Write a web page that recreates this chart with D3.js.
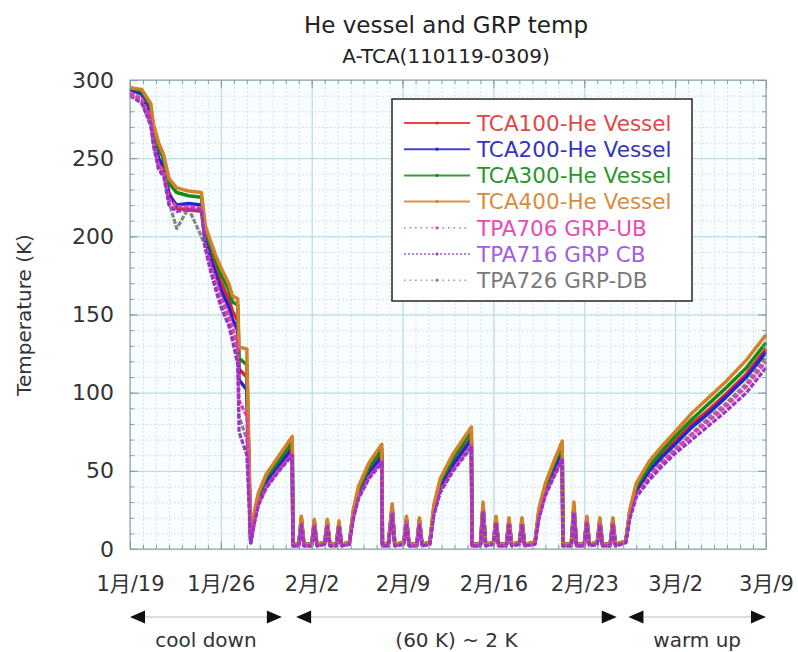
<!DOCTYPE html>
<html><head><meta charset="utf-8">
<script src="https://cdn.jsdelivr.net/npm/d3@7/dist/d3.min.js"></script>
<style>
body{margin:0;background:#fff;}
svg text{font-family:"DejaVu Sans","Noto Sans CJK JP",sans-serif;}
</style></head><body>
<svg id="c" width="798" height="652"></svg>
<script>
// ---- data (days since 1/19, temperature in K) ----
const days = [0,0.9,1.6,1.8,2.2,2.6,3.0,3.6,4.5,5.5,5.8,6.2,6.6,7.0,7.6,7.9,8.3,8.4,9.0,9.3,
 9.6,9.9,10.5,11.5,12.5,12.55,
 13.0,13.2,13.4,14.0,14.2,14.4,15.0,15.2,15.4,15.9,16.1,16.3,16.9,
 17.2,17.6,18.4,19.4,19.45,
 19.9,20.2,20.4,21.1,21.3,21.5,22.1,22.3,22.5,23.1,
 23.4,23.9,24.9,26.3,26.35,
 27.0,27.2,27.4,28.0,28.2,28.4,29.0,29.2,29.4,30.0,30.2,30.4,31.2,
 31.5,32.0,32.6,33.3,33.35,
 34.0,34.2,34.4,35.0,35.2,35.4,36.0,36.2,36.4,37.0,37.2,37.4,38.2,
 38.5,39.0,40.0,41.0,42.0,43.3,44.6,45.9,47.5,49.0];

const tca100 = [294,292,280,262,248,244,228,218,217,216,200,189,180,171,160,152,146,115,110,4,
 21,32,44,55,66,3,
 3,19,3,3,17,3,4,17,3,3,16,3,4,
 22,36,50,61,3,
 3,26,3,4,19,3,3,18,3,4,
 25,41,55,71,3,
 3,27,3,4,19,3,3,18,3,4,18,3,4,
 23,38,50,62,3,
 3,27,3,3,19,3,4,18,3,3,18,3,5,
 23,38,51,60,69,80,89,99,112,128];

const tca200 = [294,291,278,265,250,245,226,220,221,220,198,186,176,166,155,147,140,108,102,4,
 20,31,43,54,64,3,
 3,18,3,3,16,3,4,16,3,3,16,3,4,
 22,35,49,59,3,
 3,25,3,4,18,3,3,18,3,4,
 24,40,54,70,3,
 3,26,3,4,18,3,3,18,3,4,18,3,4,
 22,37,49,61,3,
 3,26,3,3,18,3,4,18,3,3,18,3,5,
 22,37,50,59,67,78,87,97,110,126];

const tca300 = [295,293,283,270,257,249,234,228,226,225,204,194,185,176,166,158,156,122,118,5,
 23,34,46,57,69,3,
 3,20,3,3,18,3,4,18,3,3,17,3,4,
 24,38,52,64,3,
 3,27,3,4,20,3,3,19,3,4,
 26,43,58,75,3,
 3,28,3,4,20,3,3,19,3,4,19,3,4,
 24,40,53,66,3,
 3,28,3,3,20,3,4,19,3,3,19,3,5,
 24,40,53,63,72,83,93,103,116,132];

const tca400 = [295,294,285,272,260,252,237,231,229,228,207,197,188,180,170,162,160,129,128,5,
 25,36,48,60,72,3,
 3,21,3,3,19,3,4,19,3,3,18,3,4,
 25,40,55,67,3,
 3,29,3,4,21,3,3,20,3,4,
 28,45,61,78,3,
 3,30,3,4,21,3,3,20,3,4,20,3,4,
 26,42,55,69,3,
 3,30,3,3,21,3,4,20,3,3,20,3,5,
 25,42,56,66,75,87,97,107,121,137];

const tpa706 = [292,288,276,262,246,242,224,219,219,218,195,182,172,161,150,142,130,95,85,4,
 18,29,40,51,61,2,
 2,16,2,2,15,2,3,15,2,2,14,2,3,
 20,33,46,56,2,
 2,23,2,3,17,2,2,16,2,3,
 22,37,51,66,2,
 2,24,2,3,17,2,2,16,2,3,16,2,3,
 20,35,46,58,2,
 2,24,2,2,17,2,3,16,2,2,16,2,4,
 20,34,46,55,63,73,82,91,104,120];

const tpa716 = [290,285,272,258,243,238,220,216,217,217,192,178,166,155,143,133,118,75,60,4,
 17,28,39,50,60,2,
 2,15,2,2,14,2,3,14,2,2,14,2,3,
 19,32,45,55,2,
 2,22,2,3,16,2,2,15,2,3,
 21,36,50,65,2,
 2,23,2,3,16,2,2,15,2,3,15,2,3,
 19,34,45,57,2,
 2,23,2,2,16,2,3,15,2,2,15,2,4,
 19,33,44,53,61,70,79,88,100,116];

const tpa726 = [291,286,270,260,244,240,222,205,218,200,193,180,168,158,146,137,125,85,70,4,
 18,29,41,52,63,2,
 2,16,2,2,15,2,3,15,2,2,15,2,3,
 20,34,47,57,2,
 2,24,2,3,17,2,2,16,2,3,
 23,38,52,67,2,
 2,25,2,3,17,2,2,16,2,3,16,2,3,
 21,36,47,59,2,
 2,25,2,2,17,2,3,16,2,2,16,2,4,
 20,35,47,56,64,74,84,93,106,123];

const seriesNames = ["TCA100-He Vessel","TCA200-He Vessel","TCA300-He Vessel","TCA400-He Vessel",
  "TPA706 GRP-UB","TPA716 GRP CB","TPA726 GRP-DB"];
const seriesValues = [tca100, tca200, tca300, tca400, tpa706, tpa716, tpa726];

const xTickDays = [0,7,14,21,28,35,42,49];
const xTickLabels = ["1月/19","1月/26","2月/2","2月/9","2月/16","2月/23","3月/2","3月/9"];
const yTickValues = [0,50,100,150,200,250,300];

const phaseLabels = ["cool down","(60 K) ~ 2 K","warm up"];
const phaseFrom = [0, 12.8, 38.4];
const phaseTo = [11.7, 37.5, 49];

// ---- styles ----
const lineColors = ["#e02828","#2424d0","#168a16","#d4822a","#e63cb0","#9a34c8","#858585"];
const textColors = ["#e04848","#3434c0","#2a962a","#d88c3c","#e84cb4","#a45ce0","#7a7a7a"];
const dashed = [false,false,false,false,true,true,true];
const drawOrder = [6,0,1,2,3,4,5];
const FONT = "DejaVu Sans, Noto Sans CJK JP, sans-serif";

const svg = d3.select("#c");
const L = 130, R = 766, T = 80, B = 549;
const x = d3.scaleLinear().domain([0,49]).range([L,R]);
const y = d3.scaleLinear().domain([0,300]).range([B,T]);

svg.append("rect").attr("x",L).attr("y",T).attr("width",R-L).attr("height",B-T).attr("fill","#fafdfe");

// grid
const minorX = d3.range(0,50,1), minorY = d3.range(0,301,10);
svg.append("g").attr("transform",`translate(0,${B})`)
  .call(d3.axisBottom(x).tickValues(minorX).tickSize(-(B-T)).tickFormat(""))
  .call(g=>{g.select(".domain").remove(); g.selectAll("line").attr("stroke","#cbe5ee").attr("stroke-dasharray","2,2");});
svg.append("g").attr("transform",`translate(${L},0)`)
  .call(d3.axisLeft(y).tickValues(minorY).tickSize(-(R-L)).tickFormat(""))
  .call(g=>{g.select(".domain").remove(); g.selectAll("line").attr("stroke","#cbe5ee").attr("stroke-dasharray","2,2");});
svg.append("g").attr("transform",`translate(0,${B})`)
  .call(d3.axisBottom(x).tickValues(xTickDays).tickSize(-(B-T)).tickFormat(""))
  .call(g=>{g.select(".domain").remove(); g.selectAll("line").attr("stroke","#b2d8e5");});
svg.append("g").attr("transform",`translate(${L},0)`)
  .call(d3.axisLeft(y).tickValues(yTickValues).tickSize(-(R-L)).tickFormat(""))
  .call(g=>{g.select(".domain").remove(); g.selectAll("line").attr("stroke","#b2d8e5");});

// lines
const line = d3.line().x((d,i)=>x(days[i])).y(d=>y(d));
drawOrder.forEach(k=>{
  svg.append("path").datum(seriesValues[k])
    .attr("fill","none").attr("stroke",lineColors[k])
    .attr("stroke-width",dashed[k]?3.2:3.5)
    .attr("stroke-linejoin","round")
    .attr("stroke-dasharray",dashed[k]?"5,1.5":null)
    .attr("d",line);
});

// frame with inward ticks
function styleTicks(g){g.select(".domain").remove(); g.selectAll("line").attr("stroke","#8a9a9e");}
svg.append("g").attr("transform",`translate(0,${B})`).call(d3.axisBottom(x).tickValues(minorX).tickSize(-4).tickFormat("")).call(styleTicks);
svg.append("g").attr("transform",`translate(0,${T})`).call(d3.axisTop(x).tickValues(minorX).tickSize(-4).tickFormat("")).call(styleTicks);
svg.append("g").attr("transform",`translate(0,${B})`).call(d3.axisBottom(x).tickValues(xTickDays).tickSize(-8).tickFormat("")).call(styleTicks);
svg.append("g").attr("transform",`translate(0,${T})`).call(d3.axisTop(x).tickValues(xTickDays).tickSize(-8).tickFormat("")).call(styleTicks);
svg.append("g").attr("transform",`translate(${L},0)`).call(d3.axisLeft(y).tickValues(minorY).tickSize(-4).tickFormat("")).call(styleTicks);
svg.append("g").attr("transform",`translate(${R},0)`).call(d3.axisRight(y).tickValues(minorY).tickSize(-4).tickFormat("")).call(styleTicks);
svg.append("g").attr("transform",`translate(${L},0)`).call(d3.axisLeft(y).tickValues(yTickValues).tickSize(-8).tickFormat("")).call(styleTicks);
svg.append("g").attr("transform",`translate(${R},0)`).call(d3.axisRight(y).tickValues(yTickValues).tickSize(-8).tickFormat("")).call(styleTicks);
svg.append("rect").attr("x",L).attr("y",T).attr("width",R-L).attr("height",B-T)
  .attr("fill","none").attr("stroke","#8a9a9e").attr("stroke-width",1);

// tick labels
svg.append("g").attr("transform",`translate(0,${B})`)
  .call(d3.axisBottom(x).tickValues(xTickDays).tickSize(0).tickPadding(27).tickFormat((d,i)=>xTickLabels[i]))
  .call(g=>{g.select(".domain").remove(); g.selectAll("text").attr("font-size",21).attr("fill","#333").attr("font-family",FONT);});
svg.append("g").attr("transform",`translate(${L},0)`)
  .call(d3.axisLeft(y).tickValues(yTickValues).tickSize(0).tickPadding(16))
  .call(g=>{g.select(".domain").remove(); g.selectAll("text").attr("font-size",22).attr("fill","#333").attr("font-family",FONT);});

// titles
svg.append("text").attr("x",446).attr("y",33).attr("text-anchor","middle").attr("font-size",23).attr("fill","#222").text("He vessel and GRP temp");
svg.append("text").attr("x",446).attr("y",63).attr("text-anchor","middle").attr("font-size",20).attr("fill","#222").text("A-TCA(110119-0309)");
svg.append("text").attr("transform","translate(31,315) rotate(-90)").attr("text-anchor","middle").attr("font-size",20).attr("fill","#333").text("Temperature (K)");

// legend
const lg = svg.append("g");
lg.append("rect").attr("x",392).attr("y",99).attr("width",300).attr("height",202).attr("fill","#fff").attr("stroke","#333").attr("stroke-width",1.6);
seriesNames.forEach((n,i)=>{
  const yy = 123 + i*26.2;
  lg.append("line").attr("x1",404).attr("x2",470).attr("y1",yy).attr("y2",yy)
    .attr("stroke",lineColors[i]).attr("stroke-width",dashed[i]?1.5:2)
    .attr("stroke-dasharray",dashed[i]?(i===5?"2,2":"1.5,4"):null).attr("opacity",0.85);
  lg.append("circle").attr("cx",437).attr("cy",yy).attr("r",1.6).attr("fill",lineColors[i]);
  lg.append("text").attr("x",477).attr("y",yy).attr("dy","0.36em").attr("font-size",21.5).attr("fill",textColors[i]).text(n);
});

// phase annotations
const ay = 617;
phaseLabels.forEach((lab,i)=>{
  const x0 = x(phaseFrom[i]), x1 = x(phaseTo[i]);
  svg.append("line").attr("x1",x0+14).attr("x2",x1-14).attr("y1",ay).attr("y2",ay).attr("stroke","#bbb").attr("stroke-width",1);
  svg.append("path").attr("d",`M${x0},${ay} L${x0+15},${ay-6.5} L${x0+15},${ay+6.5} Z`).attr("fill","#111");
  svg.append("path").attr("d",`M${x1},${ay} L${x1-15},${ay-6.5} L${x1-15},${ay+6.5} Z`).attr("fill","#111");
  svg.append("text").attr("x",(x0+x1)/2).attr("y",647).attr("text-anchor","middle").attr("font-size",20).attr("fill","#333").text(lab);
});
</script>
</body></html>
